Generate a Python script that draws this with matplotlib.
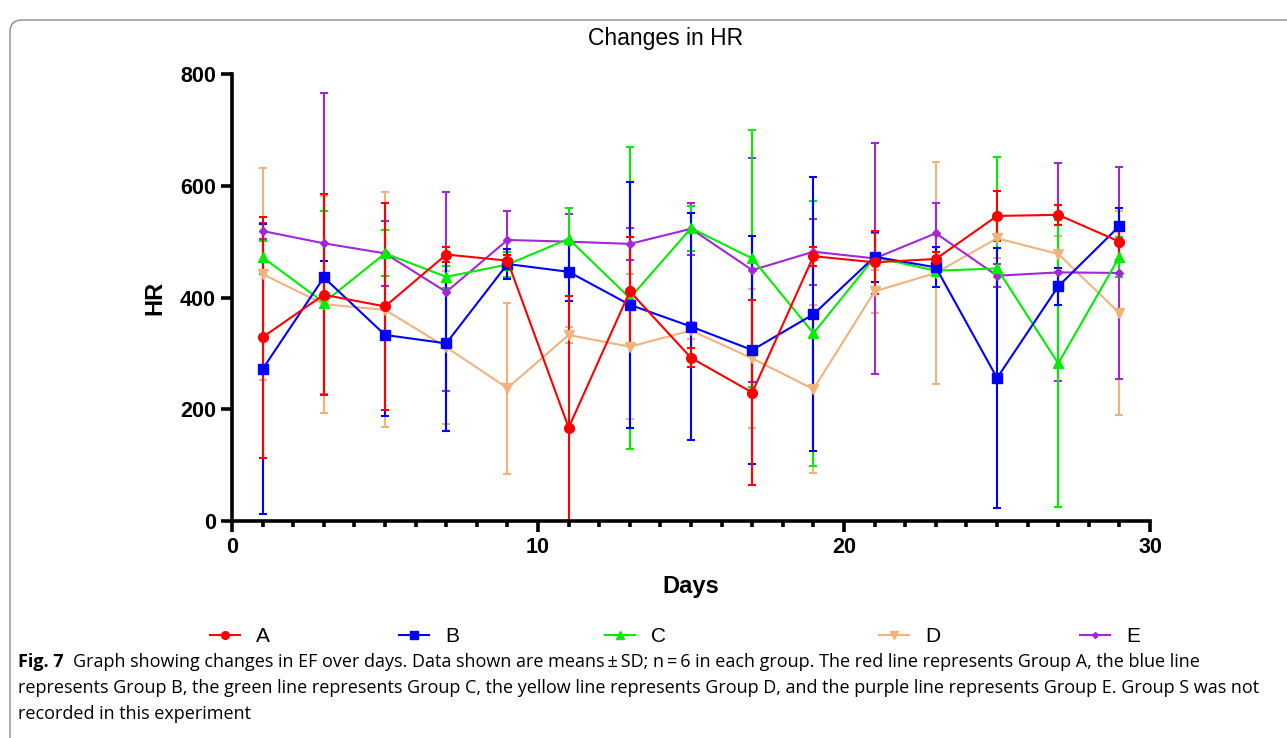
import matplotlib
matplotlib.use("Agg")
import matplotlib.pyplot as plt
import matplotlib.transforms as mtransforms
from matplotlib.patches import FancyBboxPatch
from matplotlib.lines import Line2D
from matplotlib.ticker import MultipleLocator

# Data (mean and SD per group)
days = [1, 3, 5, 7, 9, 11, 13, 15, 17, 19, 21, 23, 25, 27, 29]

a_mean = [329, 405, 384, 477, 466, 167, 411, 292, 230, 474, 463, 469, 546, 548, 500]
a_sd = [216, 180, 186, 13, 10, 236, 98, 17, 166, 17, 56, 12, 45, 18, 33]

b_mean = [272, 436, 333, 318, 460, 446, 387, 348, 306, 370, 473, 454, 256, 420, 528]
b_sd = [260, 29, 145, 156, 27, 52, 220, 203, 204, 245, 45, 36, 233, 33, 32]

c_mean = [472, 391, 479, 437, 459, 505, 399, 524, 470, 336, 472, 448, 452, 282, 473]
c_sd = [30, 164, 41, 20, 23, 55, 270, 40, 230, 237, 44, 10, 200, 256, 36]

d_mean = [442, 388, 378, 311, 238, 333, 312, 341, 291, 236, 411, 444, 506, 478, 372]
d_sd = [190, 194, 210, 137, 153, 15, 130, 15, 124, 150, 39, 198, 35, 32, 182]

e_mean = [519, 497, 479, 410, 503, 500, 496, 523, 449, 482, 470, 515, 439, 445, 444]
e_sd = [15, 269, 58, 178, 52, 50, 29, 46, 200, 59, 206, 55, 21, 195, 190]

groups = ["A", "B", "C", "D", "E"]
colors = {"A": "#FF0000", "B": "#0000FF", "C": "#00EE00", "D": "#F2B27C", "E": "#A326D8"}
markers = {"A": "o", "B": "s", "C": "^", "D": "v", "E": "D"}
msizes = {"A": 7, "B": 7, "C": 7, "D": 7, "E": 4.5}
series = {"A": (a_mean, a_sd), "B": (b_mean, b_sd), "C": (c_mean, c_sd),
          "D": (d_mean, d_sd), "E": (e_mean, e_sd)}
# left edge (px) of each legend entry, as laid out in the original
legend_x = {"A": 210, "B": 399, "C": 605, "D": 879, "E": 1080}

plt.rcParams['font.family'] = ['Liberation Sans', 'DejaVu Sans']

fig = plt.figure(figsize=(12.87, 7.38), dpi=100)
ax = fig.add_axes([0.1803, 0.2940, 0.7133, 0.6057])

# draw D first so A ends up on top
for g in ["D", "E", "C", "B", "A"]:
    m, s = series[g]
    ax.errorbar(days, m, yerr=s, color=colors[g], marker=markers[g],
                markersize=msizes[g], linewidth=1.5, elinewidth=1.5,
                capsize=3, capthick=1.5, clip_on=True)

ax.set_xlim(0, 30)
ax.set_ylim(0, 800)
ax.xaxis.set_major_locator(MultipleLocator(10))
ax.xaxis.set_minor_locator(MultipleLocator(1))
ax.yaxis.set_major_locator(MultipleLocator(200))
for side in ["top", "right"]:
    ax.spines[side].set_visible(False)
for side in ["left", "bottom"]:
    ax.spines[side].set_linewidth(2.6)
ax.tick_params(axis="both", which="major", width=2.6, length=8, labelsize=15.5)
ax.tick_params(axis="x", which="minor", width=2.6, length=4)
for lab in ax.get_xticklabels() + ax.get_yticklabels():
    lab.set_fontweight("bold")

ax.set_xlabel("Days", fontsize=17, fontweight="bold", labelpad=12)
ax.set_ylabel("HR", fontsize=17, fontweight="bold", labelpad=10)
fig.text(0.517, 0.948, "Changes in HR", ha="center", va="center", fontsize=16.5)

# legend: one small legend per group so the uneven spacing can be kept
for g in groups:
    h = Line2D([], [], color=colors[g], marker=markers[g], markersize=msizes[g] - 1.5,
               linewidth=1.5)
    leg = fig.legend([h], [g], loc="center left",
                     bbox_to_anchor=(legend_x[g] / 1287, 1 - 637 / 738),
                     frameon=False, fontsize=15, handlelength=1.45,
                     handletextpad=0.75, borderpad=0, borderaxespad=0)

# caption
cap_font = ['Open Sans', 'DejaVu Sans']
cap_size = 13.0
fig.text(18 / 1287, 1 - 662 / 738, "Fig. 7", fontsize=cap_size, fontweight="bold",
         family=cap_font, va="center")
fig.text(73 / 1287, 1 - 662 / 738,
         "Graph showing changes in EF over days. Data shown are means\u2009\u00b1\u2009SD; n\u2009=\u20096 in each group. "
         "The red line represents Group A, the blue line",
         fontsize=cap_size, family=cap_font, va="center")
fig.text(18 / 1287, 1 - 688 / 738,
         "represents Group B, the green line represents Group C, the yellow line represents Group D, "
         "and the purple line represents Group E. Group S was not",
         fontsize=cap_size, family=cap_font, va="center")
fig.text(18 / 1287, 1 - 714 / 738, "recorded in this experiment",
         fontsize=cap_size, family=cap_font, va="center")

# rounded frame around the figure panel
box = FancyBboxPatch((10, -20), 1300, 748 - 10, boxstyle="round,pad=0,rounding_size=12",
                     transform=mtransforms.IdentityTransform(), facecolor="none",
                     edgecolor="#8a8a8a", linewidth=1.0)
fig.patches.append(box)

fig.savefig("out.png", dpi=100)
